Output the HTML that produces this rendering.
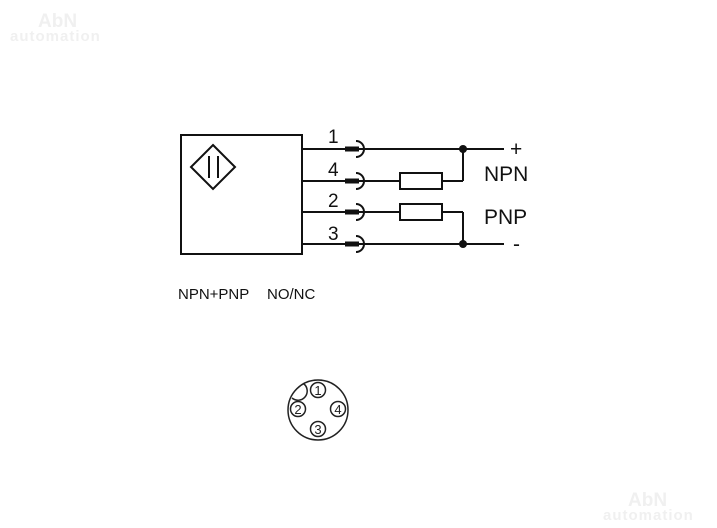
<!DOCTYPE html>
<html><head><meta charset="utf-8"><style>
html,body{margin:0;padding:0;background:#fff;}
svg{display:block;}
</style></head><body>
<svg width="717" height="528" viewBox="0 0 717 528" xmlns="http://www.w3.org/2000/svg" font-family="Liberation Sans, sans-serif">
<g fill="#f0f0f0" font-weight="bold">
<text x="38" y="27" font-size="19">AbN</text>
<text x="10" y="41" font-size="15" letter-spacing="1">automation</text>
<text x="628" y="506" font-size="19">AbN</text>
<text x="603" y="520" font-size="15" letter-spacing="1">automation</text>
</g>
<g stroke="#111" stroke-width="2" fill="none">
<rect x="181" y="135" width="121" height="119"/>
<path d="M213 145 L235 167 L213 189 L191 167 Z"/>
<line x1="209" y1="156" x2="209" y2="178"/>
<line x1="218" y1="156" x2="218" y2="178"/>
<line x1="302" y1="149" x2="504" y2="149"/>
<line x1="302" y1="181" x2="400" y2="181"/>
<line x1="442" y1="181" x2="463" y2="181"/>
<line x1="463" y1="149" x2="463" y2="181"/>
<line x1="302" y1="212" x2="400" y2="212"/>
<line x1="442" y1="212" x2="463" y2="212"/>
<line x1="463" y1="212" x2="463" y2="244"/>
<line x1="302" y1="244" x2="504" y2="244"/>
<rect x="400" y="173" width="42" height="16"/>
<rect x="400" y="204" width="42" height="16"/>
<path d="M356 141 A8 8 0 0 1 356 157"/>
<path d="M356 173 A8 8 0 0 1 356 189"/>
<path d="M356 204 A8 8 0 0 1 356 220"/>
<path d="M356 236 A8 8 0 0 1 356 252"/>
</g>
<g stroke="#111" stroke-width="5">
<line x1="345" y1="149" x2="359" y2="149"/>
<line x1="345" y1="181" x2="359" y2="181"/>
<line x1="345" y1="212" x2="359" y2="212"/>
<line x1="345" y1="244" x2="359" y2="244"/>
</g>
<circle cx="463" cy="149" r="4" fill="#111"/>
<circle cx="463" cy="244" r="4" fill="#111"/>
<g fill="#111" font-size="19">
<text x="328" y="143">1</text>
<text x="328" y="176">4</text>
<text x="328" y="207">2</text>
<text x="328" y="240">3</text>
</g>
<g fill="#111" font-size="21">
<text x="510" y="156">+</text>
<text x="484" y="181">NPN</text>
<text x="484" y="224">PNP</text>
<text x="513" y="251">-</text>
</g>
<text x="178" y="299" font-size="15" fill="#111">NPN+PNP</text>
<text x="267" y="299" font-size="15" fill="#111">NO/NC</text>
<g stroke="#222" stroke-width="1.5" fill="none">
<circle cx="318" cy="410" r="30"/>
<path d="M292 398 A8 8 0 0 0 304 384"/>
<circle cx="318" cy="390" r="7.5"/>
<circle cx="298" cy="409" r="7.5"/>
<circle cx="338" cy="409" r="7.5"/>
<circle cx="318" cy="429" r="7.5"/>
</g>
<g fill="#222" font-size="13" text-anchor="middle">
<text x="318" y="395">1</text>
<text x="298" y="414">2</text>
<text x="338" y="414">4</text>
<text x="318" y="434">3</text>
</g>
</svg>
</body></html>
